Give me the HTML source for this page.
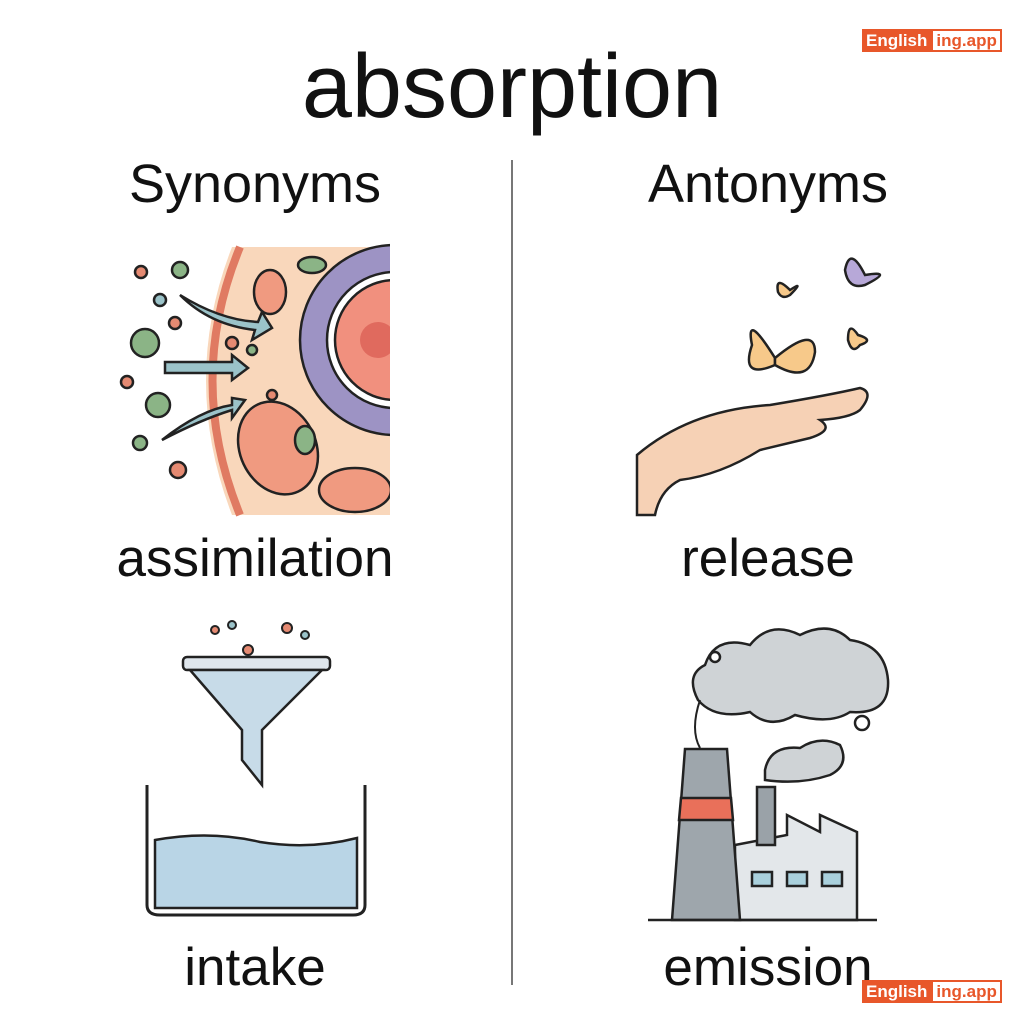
<!DOCTYPE html>
<html><head><style>
body{margin:0;width:1024px;height:1024px;background:#fff;position:relative;overflow:hidden;font-family:"Liberation Sans",sans-serif;color:#111}
.t{position:absolute;text-align:center;white-space:nowrap}
.logo{position:absolute;height:23px;display:flex;font-size:17px;font-weight:bold}
.logo .a{background:#e8572a;color:#fff;padding:0 4px;line-height:23px}
.logo .b{border:2px solid #e8572a;color:#e8572a;background:#fff;padding:0 3px;line-height:19px}
</style></head><body>
<div class="t" style="left:212px;width:600px;top:36px;font-size:90px">absorption</div>
<div class="t" style="left:55px;width:400px;top:153px;font-size:54px">Synonyms</div>
<div class="t" style="left:568px;width:400px;top:153px;font-size:54px">Antonyms</div>
<div class="t" style="left:55px;width:400px;top:528px;font-size:53px">assimilation</div>
<div class="t" style="left:568px;width:400px;top:528px;font-size:53px">release</div>
<div class="t" style="left:55px;width:400px;top:937px;font-size:53px">intake</div>
<div class="t" style="left:568px;width:400px;top:937px;font-size:53px">emission</div>
<div style="position:absolute;left:511px;top:160px;width:2px;height:825px;background:#777"></div>
<svg width="1024" height="1024" style="position:absolute;left:0;top:0" fill="none" stroke="#222" stroke-width="2.5">
<defs><clipPath id="c"><rect x="100" y="240" width="290" height="280"/></clipPath></defs>
<g clip-path="url(#c)">
<path d="M232 247 H390 V515 H232 Q180 380 232 247Z" fill="#f9d7bb" stroke="none"/>
<path d="M240 247 Q185 380 240 515" stroke="#e07a62" stroke-width="8"/>
<circle cx="395" cy="340" r="95" fill="#9d93c4"/>
<circle cx="395" cy="340" r="68" fill="#fff"/>
<circle cx="395" cy="340" r="60" fill="#f1907e"/>
<circle cx="378" cy="340" r="18" fill="#e06a5e" stroke="none"/>
<ellipse cx="270" cy="292" rx="16" ry="22" fill="#f09a80"/>
<ellipse cx="278" cy="448" rx="38" ry="48" fill="#f09a80" transform="rotate(-25 278 448)"/>
<ellipse cx="355" cy="490" rx="36" ry="22" fill="#f09a80"/>
<ellipse cx="312" cy="265" rx="14" ry="8" fill="#8bb486"/>
<ellipse cx="305" cy="440" rx="10" ry="14" fill="#8bb486"/>
</g>
<g fill="#9bc3c9"><path d="M180 295 Q220 320 258 322 L262 312 L272 328 L252 340 L255 330 Q210 325 180 295Z"/><path d="M165 362 H232 V355 L248 368 L232 380 V373 H165Z"/><path d="M162 440 Q200 410 232 405 V398 L245 400 L232 418 V410 Q200 420 162 440Z"/></g>
<g fill="#e58a72"><circle cx="141" cy="272" r="6"/><circle cx="175" cy="323" r="6"/><circle cx="127" cy="382" r="6"/><circle cx="232" cy="343" r="6"/><circle cx="272" cy="395" r="5"/><circle cx="178" cy="470" r="8"/></g>
<g fill="#8bb486"><circle cx="180" cy="270" r="8"/><circle cx="145" cy="343" r="14"/><circle cx="158" cy="405" r="12"/><circle cx="140" cy="443" r="7"/><circle cx="252" cy="350" r="5"/></g>
<circle cx="160" cy="300" r="6" fill="#9bc3c9"/>
<!-- butterflies & hand -->
<g fill="#f7c98a">
<path d="M775 358 Q745 310 752 345 Q740 380 775 365Z"/><path d="M775 358 Q815 325 815 352 Q810 385 775 365Z"/>
<path d="M790 290 Q775 275 778 292 Q782 300 790 295 Q805 280 790 290Z"/>
<path d="M858 335 Q848 320 848 340 Q852 355 860 345 Q875 340 858 335Z"/></g>
<path d="M865 275 Q850 245 845 270 Q848 290 865 285 Q895 270 865 275Z" fill="#b7a8d8"/>
<path d="M637 455 Q690 410 770 405 Q830 395 860 388 Q875 392 860 410 Q850 418 820 420 Q835 430 810 438 L760 450 Q720 475 680 480 Q660 490 655 515 L637 515Z" fill="#f6d1b5"/>
<!-- funnel -->
<rect x="183" y="657" width="147" height="13" rx="4" fill="#dfe6ec"/>
<path d="M190 670 H322 L262 730 V785 L242 760 V730Z" fill="#c7dbe8"/>
<g fill="#e58a72" stroke-width="2"><circle cx="215" cy="630" r="4"/><circle cx="287" cy="628" r="5"/><circle cx="248" cy="650" r="5"/></g>
<g fill="#9bc3c9" stroke-width="2"><circle cx="232" cy="625" r="4"/><circle cx="305" cy="635" r="4"/></g>
<path d="M147 785 V905 Q147 915 160 915 H353 Q365 915 365 905 V785" stroke-width="3"/>
<path d="M155 840 Q210 830 260 842 Q310 850 357 838 V908 H155Z" fill="#b9d5e6"/>
<!-- factory -->
<path d="M698 700 Q685 675 705 665 Q715 635 750 645 Q770 620 800 635 Q830 620 850 640 Q885 645 888 680 Q890 715 850 712 Q830 725 795 715 Q770 730 750 712 Q715 720 698 700Z" fill="#cfd3d6"/>
<path d="M700 700 Q690 730 700 748" stroke-width="2"/>
<circle cx="715" cy="657" r="5" fill="#fff"/><circle cx="862" cy="723" r="7" fill="#fff"/>
<path d="M765 770 Q770 745 800 748 Q820 735 840 745 Q850 765 830 775 Q800 785 765 780Z" fill="#cfd3d6"/>
<path d="M735 845 L787 835 V815 L820 832 V815 L857 832 V920 H735Z" fill="#e3e7ea"/>
<rect x="757" y="787" width="18" height="58" fill="#9aa2a8"/>
<path d="M685 749 H727 L740 920 H672Z" fill="#9ea6ac"/>
<path d="M681 798 H731 L733 820 H679Z" fill="#e9705a"/>
<g fill="#a9d0dc"><rect x="752" y="872" width="20" height="14"/><rect x="787" y="872" width="20" height="14"/><rect x="822" y="872" width="20" height="14"/></g>
<path d="M648 920 H877"/>
</svg>
<div class="logo" style="left:862px;top:29px"><span class="a">English</span><span class="b">ing.app</span></div>
<div class="logo" style="left:862px;top:980px"><span class="a">English</span><span class="b">ing.app</span></div>
</body></html>
